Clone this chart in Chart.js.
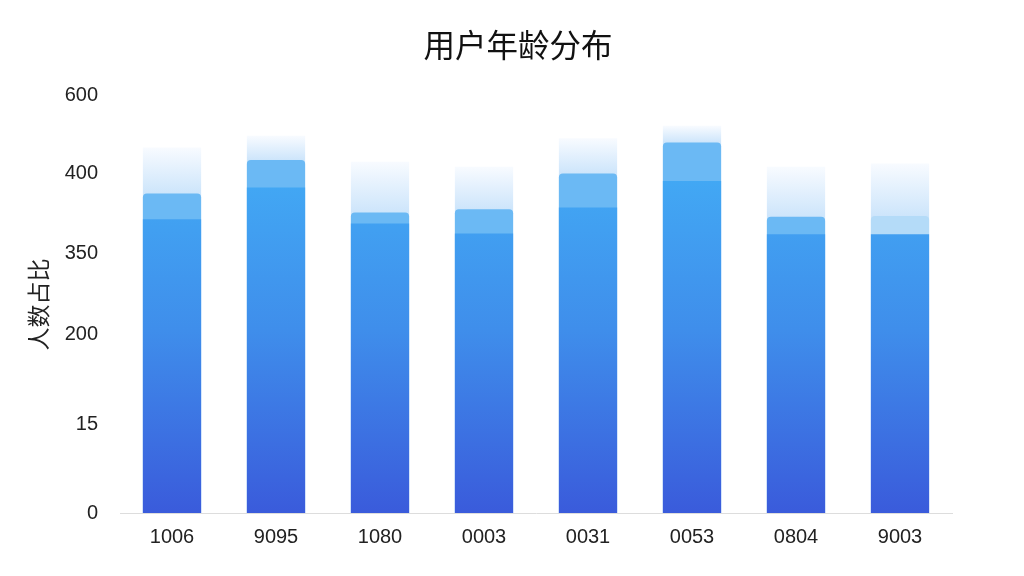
<!DOCTYPE html>
<html>
<head>
<meta charset="utf-8">
<script src="https://cdn.jsdelivr.net/npm/chart.js@4/dist/chart.umd.min.js"></script>
<style>
  html, body { margin: 0; padding: 0; background: #fff; }
  canvas { display: block; }
</style>
</head>
<body>
<canvas id="myChart" width="1024" height="576"></canvas>
<script>
// setup
const categories = ['1006', '9095', '1080', '0003', '0031', '0053', '0804', '9003'];
// top of the solid bar, the lighter cap and the faded halo
const mainValues = [352, 390, 347, 335, 366, 398, 334, 334];
const capValues  = [383, 423, 360, 364, 407, 444, 355, 356];
const haloValues = [438, 452, 421, 415, 449, 464, 415, 419];
// y axis labels as printed, and where they sit on the axis
const yTickLabels = ['0', '15', '200', '350', '400', '600'];
const yTickPos    = [0, 106, 214, 311, 407, 500];

const FONT = '"Liberation Sans", "Noto Sans CJK SC", sans-serif';
const CJK = '"Noto Sans CJK SC", sans-serif';

function mainFill(ctx) {
  const chart = ctx.chart;
  const area = chart.chartArea;
  if (!area) return '#3f8ce8';
  const y = chart.scales.y;
  const g = chart.ctx.createLinearGradient(0, area.bottom, 0, y.getPixelForValue(400));
  g.addColorStop(0, '#3a5bdb');
  g.addColorStop(0.55, '#3f8eeb');
  g.addColorStop(1, '#42a8f4');
  return g;
}

function haloFill(ctx) {
  const chart = ctx.chart;
  if (!chart.chartArea || ctx.type !== 'data') return '#e6f2fd';
  const y = chart.scales.y;
  const i = ctx.dataIndex;
  const g = chart.ctx.createLinearGradient(0, y.getPixelForValue(capValues[i]), 0, y.getPixelForValue(haloValues[i]));
  g.addColorStop(0, '#cde5fb');
  g.addColorStop(1, '#f8fbff');
  return g;
}

// nudge the title so it sits over the plot like in the picture
const titleShift = {
  id: 'titleShift',
  afterLayout(chart) {
    if (chart.titleBlock) chart.titleBlock.left += 64;
  }
};

const data = {
  labels: categories,
  datasets: [{
    label: 'main',
    data: mainValues,
    backgroundColor: mainFill,
    borderWidth: 0
  }, {
    label: 'cap',
    data: capValues,
    backgroundColor: ['#6bb9f4', '#6bb9f4', '#6bb9f4', '#6bb9f4', '#6bb9f4', '#6bb9f4', '#6bb9f4', '#b4dbf8'],
    borderWidth: 0,
    borderRadius: { topLeft: 4, topRight: 4 },
    borderSkipped: 'bottom'
  }, {
    label: 'halo',
    data: haloValues,
    backgroundColor: haloFill,
    borderWidth: 0
  }]
};

// config
const config = {
  type: 'bar',
  data,
  plugins: [titleShift],
  options: {
    responsive: false,
    animation: false,
    devicePixelRatio: 1,
    layout: { padding: { left: 20, right: 72, top: 0, bottom: 23 } },
    datasets: {
      bar: { grouped: false, barPercentage: 0.7, categoryPercentage: 0.8 }
    },
    plugins: {
      legend: { display: false },
      tooltip: { enabled: false },
      title: {
        display: true,
        text: '用户年龄分布',
        color: '#111',
        font: { family: CJK, size: 31.5, weight: 'normal' },
        padding: { top: 26, bottom: 32 }
      }
    },
    scales: {
      x: {
        grid: { display: false },
        border: { display: true, color: '#dddddd', width: 1 },
        ticks: { color: '#222', font: { family: FONT, size: 20 }, padding: 4 }
      },
      y: {
        min: 0,
        max: 500,
        grid: { display: false, drawTicks: false },
        border: { display: false },
        afterBuildTicks: (scale) => {
          scale.ticks = yTickPos.map(v => ({ value: v }));
        },
        afterFit: (scale) => { scale.width = 100; },
        ticks: {
          color: '#222',
          font: { family: FONT, size: 20 },
          padding: 22,
          callback: (value, index) => yTickLabels[index]
        },
        title: {
          display: true,
          text: '人数占比',
          color: '#222',
          font: { family: CJK, size: 23 },
          padding: { top: 4, bottom: 12 }
        }
      }
    }
  }
};

// render init block
const myChart = new Chart(document.getElementById('myChart'), config);
</script>
</body>
</html>
